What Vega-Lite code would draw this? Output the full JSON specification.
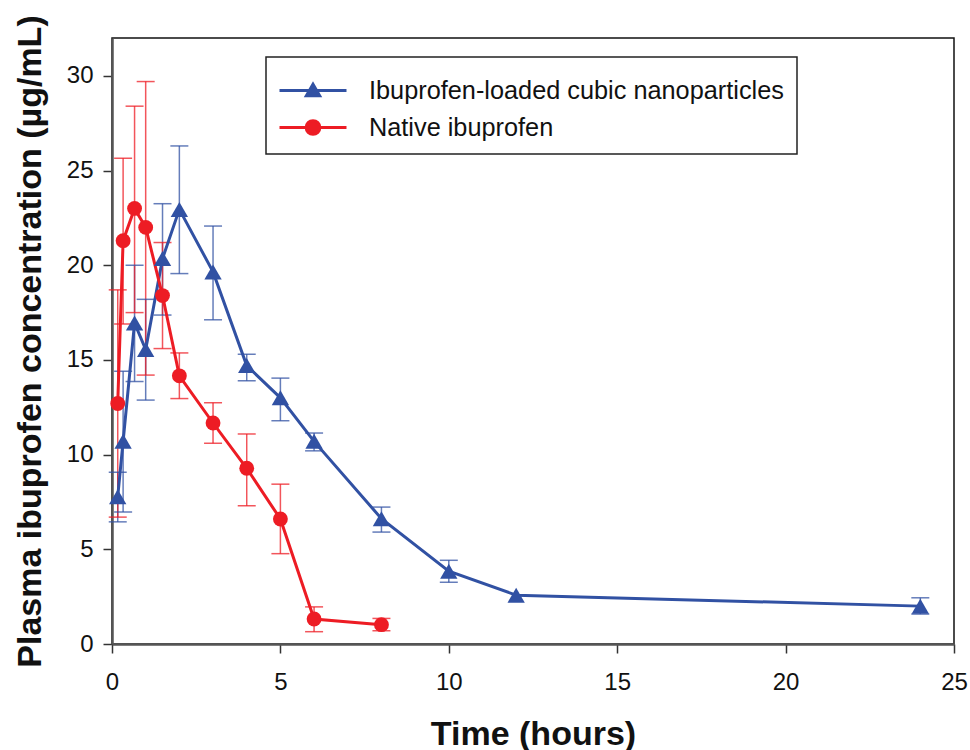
{
  "$schema": "https://vega.github.io/schema/vega-lite/v6.json",
  "width": 842,
  "height": 606,
  "autosize": {"type": "none"},
  "padding": {"left": 112, "top": 38, "right": 16, "bottom": 106},
  "background": "white",
  "config": {
    "font": "Liberation Sans",
    "view": {"stroke": "#111111", "strokeWidth": 1.5},
    "axis": {
      "grid": false,
      "domainColor": "#555555",
      "domainWidth": 2.5,
      "tickColor": "#333333",
      "tickWidth": 1.5,
      "tickSize": 9,
      "labelFont": "Liberation Sans",
      "labelFontSize": 24,
      "labelColor": "#111111",
      "labelFlush": false,
      "labelOverlap": false,
      "titleFont": "Liberation Sans",
      "titleFontSize": 34,
      "titleFontWeight": "bold",
      "titleColor": "#111111"
    }
  },
  "data": {
    "values": [
      {"series": "Ibuprofen-loaded cubic nanoparticles", "t": 0.17, "c": 7.78, "lo": 6.45, "hi": 9.07},
      {"series": "Ibuprofen-loaded cubic nanoparticles", "t": 0.33, "c": 10.7, "lo": 6.97, "hi": 14.4},
      {"series": "Ibuprofen-loaded cubic nanoparticles", "t": 0.67, "c": 16.95, "lo": 13.86, "hi": 20.0},
      {"series": "Ibuprofen-loaded cubic nanoparticles", "t": 1, "c": 15.55, "lo": 12.88, "hi": 18.2},
      {"series": "Ibuprofen-loaded cubic nanoparticles", "t": 1.5, "c": 20.35, "lo": 17.37, "hi": 23.25},
      {"series": "Ibuprofen-loaded cubic nanoparticles", "t": 2, "c": 22.95, "lo": 19.56, "hi": 26.3},
      {"series": "Ibuprofen-loaded cubic nanoparticles", "t": 3, "c": 19.65, "lo": 17.12, "hi": 22.07},
      {"series": "Ibuprofen-loaded cubic nanoparticles", "t": 4, "c": 14.7, "lo": 13.9, "hi": 15.3},
      {"series": "Ibuprofen-loaded cubic nanoparticles", "t": 5, "c": 13.0, "lo": 11.79, "hi": 14.04},
      {"series": "Ibuprofen-loaded cubic nanoparticles", "t": 6, "c": 10.7, "lo": 10.2, "hi": 11.14},
      {"series": "Ibuprofen-loaded cubic nanoparticles", "t": 8, "c": 6.62, "lo": 5.91, "hi": 7.23},
      {"series": "Ibuprofen-loaded cubic nanoparticles", "t": 10, "c": 3.84, "lo": 3.26, "hi": 4.42},
      {"series": "Ibuprofen-loaded cubic nanoparticles", "t": 12, "c": 2.58, "lo": null, "hi": null},
      {"series": "Ibuprofen-loaded cubic nanoparticles", "t": 24, "c": 2.0, "lo": 1.58, "hi": 2.44},
      {"series": "Native ibuprofen", "t": 0.17, "c": 12.7, "lo": 6.7, "hi": 18.7},
      {"series": "Native ibuprofen", "t": 0.33, "c": 21.3, "lo": 16.9, "hi": 25.65},
      {"series": "Native ibuprofen", "t": 0.67, "c": 23.0, "lo": 17.5, "hi": 28.4},
      {"series": "Native ibuprofen", "t": 1, "c": 22.0, "lo": 14.2, "hi": 29.7},
      {"series": "Native ibuprofen", "t": 1.5, "c": 18.4, "lo": 15.6, "hi": 21.2},
      {"series": "Native ibuprofen", "t": 2, "c": 14.16, "lo": 12.96, "hi": 15.37},
      {"series": "Native ibuprofen", "t": 3, "c": 11.67, "lo": 10.6, "hi": 12.74},
      {"series": "Native ibuprofen", "t": 4, "c": 9.28, "lo": 7.3, "hi": 11.09},
      {"series": "Native ibuprofen", "t": 5, "c": 6.6, "lo": 4.77, "hi": 8.44},
      {"series": "Native ibuprofen", "t": 6, "c": 1.32, "lo": 0.65, "hi": 1.96},
      {"series": "Native ibuprofen", "t": 8, "c": 1.02, "lo": 0.7, "hi": 1.35}
    ]
  },
  "encoding": {
    "x": {
      "field": "t",
      "type": "quantitative",
      "scale": {"domain": [0, 25], "nice": false},
      "axis": {"values": [0, 5, 10, 15, 20, 25], "labelPadding": 17, "titlePadding": 23, "title": "Time (hours)"}
    },
    "color": {
      "field": "series",
      "type": "nominal",
      "scale": {
        "domain": ["Ibuprofen-loaded cubic nanoparticles", "Native ibuprofen"],
        "range": ["#3151a3", "#ed1c24"]
      },
      "legend": {
        "orient": "none",
        "legendX": 154,
        "legendY": 19,
        "title": null,
        "padding": 13,
        "strokeColor": "#222222",
        "fillColor": "white",
        "labelFont": "Liberation Sans",
        "labelFontSize": 25.3,
        "labelColor": "#111111",
        "labelLimit": 700,
        "symbolSize": 1444,
        "symbolStrokeWidth": 3,
        "symbolOffset": 13.5,
        "labelOffset": 35.5,
        "rowPadding": 3,
        "encode": {
          "legend": {"update": {"strokeWidth": {"value": 1.5}}},
          "symbols": {
            "update": {
              "shape": {"signal": "datum.value === 'Native ibuprofen' ? 'M-1.763,0H1.763M0.36,0C0.36,0.199,0.199,0.36,0,0.36C-0.199,0.36,-0.36,0.199,-0.36,0C-0.36,-0.199,-0.199,-0.36,0,-0.36C0.199,-0.36,0.36,-0.199,0.36,0Z' : 'M-1.763,0H1.763M0,-0.33L0.35,0.28L-0.35,0.28Z'"},
              "fill": {"signal": "datum.value === 'Native ibuprofen' ? '#ed1c24' : '#3151a3'"},
              "stroke": {"signal": "datum.value === 'Native ibuprofen' ? '#ed1c24' : '#3151a3'"},
              "strokeWidth": {"value": 3},
              "opacity": {"value": 1},
              "fillOpacity": {"value": 1},
              "strokeOpacity": {"value": 1}
            }
          }
        }
      }
    }
  },
  "layer": [
    {
      "mark": {"type": "rule", "strokeWidth": 1.5, "opacity": 0.75},
      "encoding": {
        "y": {
          "field": "lo",
          "type": "quantitative",
          "scale": {"domain": [0, 32], "nice": false},
          "axis": {"values": [0, 5, 10, 15, 20, 25, 30], "labelPadding": 10, "titlePadding": 19, "title": "Plasma ibuprofen concentration (µg/mL)"}
        },
        "y2": {"field": "hi"}
      }
    },
    {
      "mark": {"type": "tick", "orient": "horizontal", "size": 18, "thickness": 1.5, "opacity": 0.75},
      "encoding": {"y": {"field": "lo", "type": "quantitative"}}
    },
    {
      "mark": {"type": "tick", "orient": "horizontal", "size": 18, "thickness": 1.5, "opacity": 0.75},
      "encoding": {"y": {"field": "hi", "type": "quantitative"}}
    },
    {
      "mark": {"type": "line", "strokeWidth": 3},
      "encoding": {"y": {"field": "c", "type": "quantitative"}}
    },
    {
      "transform": [{"filter": "datum.series === 'Ibuprofen-loaded cubic nanoparticles'"}],
      "mark": {"type": "point", "shape": "triangle-up", "filled": true, "size": 300, "opacity": 1},
      "encoding": {"y": {"field": "c", "type": "quantitative"}}
    },
    {
      "transform": [{"filter": "datum.series === 'Native ibuprofen'"}],
      "mark": {"type": "point", "shape": "circle", "filled": true, "size": 220, "opacity": 1},
      "encoding": {"y": {"field": "c", "type": "quantitative"}}
    }
  ]
}
